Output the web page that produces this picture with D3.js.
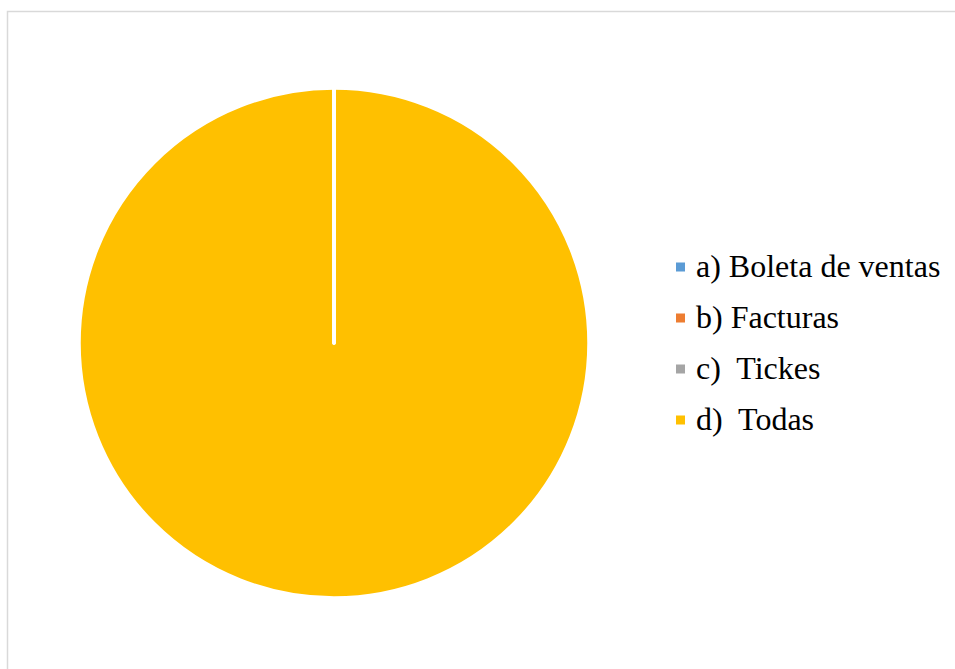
<!DOCTYPE html>
<html>
<head>
<meta charset="utf-8">
<script src="https://cdn.jsdelivr.net/npm/d3@7"></script>
<style>
  body { margin: 0; background: #ffffff; }
  svg { display: block; }
</style>
</head>
<body>
<script>
// data
var categories = ["a) Boleta de ventas", "b) Facturas", "c)  Tickes", "d)  Todas"];
var values = [0, 0, 0, 100];
var colors = ["#5b9bd5", "#ed7d31", "#a5a5a5", "#ffc000"];

var width = 955, height = 669;

var svg = d3.select("body")
    .append("svg")
    .attr("width", width)
    .attr("height", height);

// chart area border
svg.append("rect")
    .attr("x", 7.5)
    .attr("y", 11.5)
    .attr("width", 1000)
    .attr("height", 700)
    .attr("fill", "#ffffff")
    .attr("stroke", "#d9d9d9")
    .attr("stroke-width", 1.5);

// -------------------------------------------------------------------------- //
//                                   PIE                                      //
// -------------------------------------------------------------------------- //

var cx = 334, cy = 343, radius = 255;

var pie = d3.pie()
    .sort(null)
    .value(function(d) { return d; });

var arc = d3.arc()
    .innerRadius(0)
    .outerRadius(radius);

var g = svg.append("g")
    .attr("transform", "translate(" + cx + "," + cy + ")");

// biggest slice first so the empty slices' white edges stay on top
var slices = pie(values).map(function(d, i) { d.idx = i; return d; })
    .sort(function(a, b) { return b.value - a.value; });

g.selectAll("path")
    .data(slices)
    .enter()
    .append("path")
    .attr("d", arc)
    .attr("fill", function(d) { return colors[d.idx]; })
    .attr("stroke", "#ffffff")
    .attr("stroke-width", 3.5)
    .attr("stroke-linejoin", "round");

// -------------------------------------------------------------------------- //
//                                  LEGEND                                    //
// -------------------------------------------------------------------------- //

var legendY = d3.scalePoint()
    .domain(categories)
    .range([267, 420]);

var legend = svg.append("g");

var items = legend.selectAll("g")
    .data(categories)
    .enter()
    .append("g")
    .attr("transform", function(d) { return "translate(676," + legendY(d) + ")"; });

items.append("rect")
    .attr("x", 0)
    .attr("y", -4.5)
    .attr("width", 9)
    .attr("height", 9)
    .attr("fill", function(d, i) { return colors[i]; });

items.append("text")
    .attr("x", 20)
    .attr("y", 10)
    .text(function(d) { return d; })
    .style("white-space", "pre")
    .style("fill", "#000000")
    .style("font-family", "'Times New Roman', 'Liberation Serif', serif")
    .style("font-size", "32px");
</script>
</body>
</html>
